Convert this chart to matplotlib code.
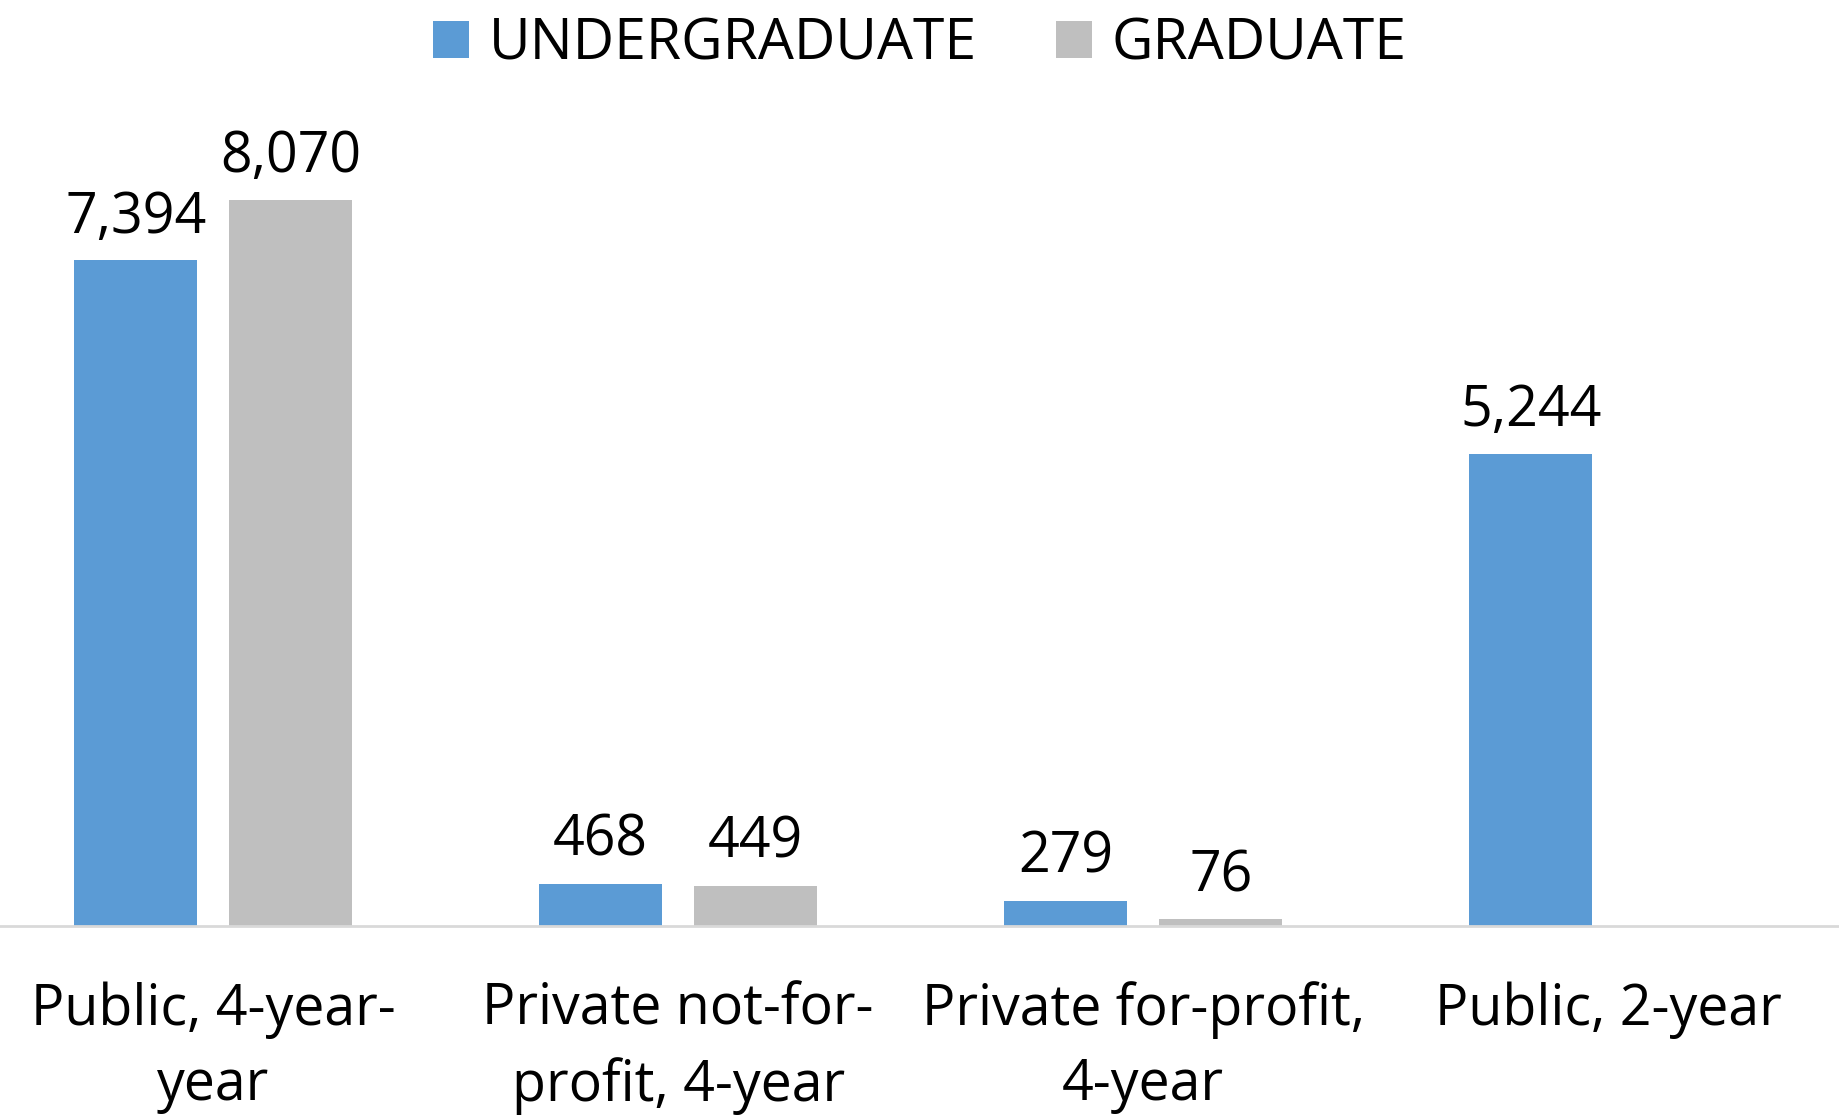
import numpy as np
import matplotlib.pyplot as plt

plt.rcParams['font.family'] = ['Open Sans', 'DejaVu Sans']

categories = ["Public, 4-year-\nyear", "Private not-for-\nprofit, 4-year",
              "Private for-profit,\n4-year", "Public, 2-year"]
undergrad = [7394, 468, 279, 5244]
grad = [8070, 449, 76, np.nan]

fig = plt.figure(figsize=(18.4, 11.16), dpi=100)
ax = fig.add_axes([-0.0105, 0.1703, 1.0109, 0.7258])

x = np.arange(len(categories))
w = 0.265
off = 0.1667
b1 = ax.bar(x - off, undergrad, w, color='#5B9BD5', label='UNDERGRADUATE')
b2 = ax.bar(x + off, grad, w, color='#BFBFBF', label='GRADUATE')

ax.bar_label(b1, labels=[f"{v:,.0f}" for v in undergrad], padding=10, fontsize=40)
ax.bar_label(b2, labels=["" if np.isnan(v) else f"{v:,.0f}" for v in grad], padding=10, fontsize=40)

ax.set_xlim(-0.5, 3.5)
ax.set_ylim(0, 9000)
ax.set_yticks([])
ax.set_xticks(x)
ax.set_xticklabels(categories, fontsize=40, linespacing=1.42)
ax.tick_params(axis='x', length=0, pad=40)
for s in ['top', 'right', 'left']:
    ax.spines[s].set_visible(False)
ax.spines['bottom'].set_color('#D9D9D9')
ax.spines['bottom'].set_linewidth(2)

fig.legend(loc='center', bbox_to_anchor=(0.5, 0.96), ncol=2, frameon=False,
           fontsize=41, handlelength=0.62, handleheight=0.62, handletextpad=0.35,
           columnspacing=1.4)

fig.savefig('out.png', dpi=100)
